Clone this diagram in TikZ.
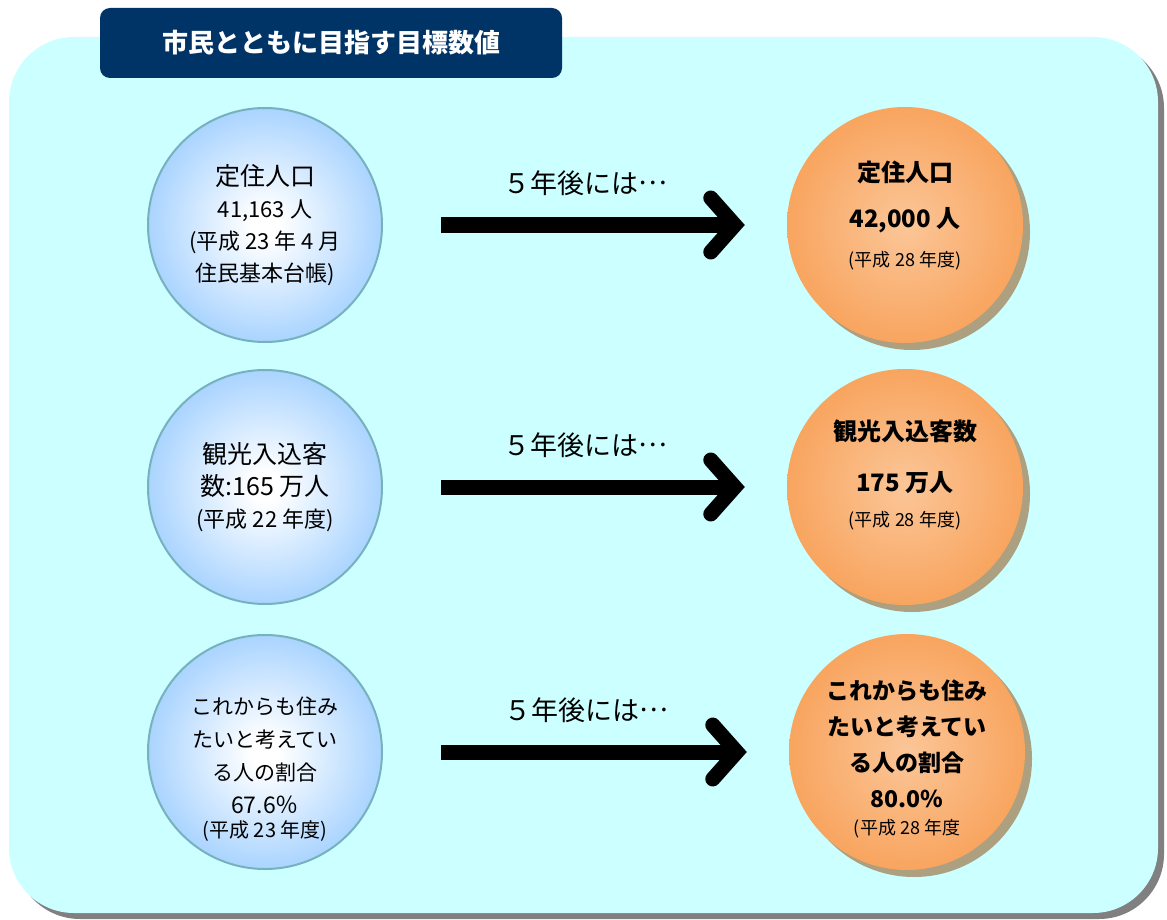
\documentclass[tikz,border=0pt]{standalone}
\usepackage{fontspec}
\setmainfont{Noto Sans CJK JP}
\usetikzlibrary{positioning,arrows.meta,shadows}

\definecolor{bgcyan}{RGB}{204,255,255}
\definecolor{panelshadow}{RGB}{128,128,128}
\definecolor{titlenavy}{RGB}{0,51,102}
\definecolor{ballblue}{RGB}{150,202,255}
\definecolor{ballrim}{RGB}{118,178,190}
\definecolor{ballorange}{RGB}{247,150,70}
\definecolor{orangelight}{RGB}{251,198,152}
\definecolor{orangeshade}{RGB}{172,160,128}

\pgfdeclareradialshading{blueball}{\pgfpoint{0bp}{0bp}}{color(0bp)=(white); color(3bp)=(white); color(30bp)=(ballblue); color(50bp)=(ballblue)}
\pgfdeclareradialshading{orangeball}{\pgfpoint{0bp}{0bp}}{color(0bp)=(orangelight); color(36bp)=(ballorange); color(50bp)=(ballorange)}

\newcommand\yearfont{\mdseries\fontsize{18}{20}\selectfont}
\newcommand\middots{\raisebox{.33em}{…}}

\begin{document}
\begin{tikzpicture}[x=1pt,y=-1pt,
    nowball/.style={circle,minimum size=234pt,inner sep=0pt,shading=blueball,draw=ballrim,line width=2pt},
    goalball/.style={circle,minimum size=236pt,inner sep=0pt,shading=orangeball,
        drop shadow={shadow xshift=7pt,shadow yshift=-7pt,fill=orangeshade,opacity=1}},
    nowtext/.style={align=center,inner sep=0pt,font=\fontsize{22}{32}\selectfont},
    goaltext/.style={align=center,inner sep=0pt,font=\bfseries\fontsize{24}{30}\selectfont},
    titlebox/.style={fill=titlenavy,rounded corners=10pt,minimum width=462pt,minimum height=70pt,
        text=white,font=\bfseries\fontsize{26}{26}\selectfont},
    yeararrow/.style={line width=15pt,-{Straight Barb[length=24pt,width=54pt,line cap=round,line join=miter]},
        shorten <=58pt,shorten >=42pt},
    afterlabel/.style={midway,above=22pt,inner sep=0pt,font=\fontsize{27}{27}\selectfont}]

    \useasboundingbox (0,0) rectangle (1167,920);
    % panel
    \fill[panelshadow,rounded corners=65pt] (15,43) rectangle (1164,919);
    \fill[bgcyan,rounded corners=65pt] (9,37) rectangle (1158,913);
    \node[titlebox] (title) at (331,43) {市民とともに目指す目標数値};

    % now
    \node[nowball] (now1) at (265,225) {};
    \node[nowball] (now2) at (265,487) {};
    \node[nowball] (now3) at (265,752) {};
    % goals
    \node[goalball] (goal1) at (905,225) {};
    \node[goalball] (goal2) at (905,487) {};
    \node[goalball] (goal3) at (907,752) {};

    \node[nowtext] (now1t) at (now1) {{\fontsize{25}{32}\selectfont 定住人口}\\41,163 人\\(平成 23 年 4 月\\住民基本台帳)};
    \node[nowtext] (now2t) at (now2) {{\fontsize{25}{32}\selectfont 観光入込客}\\{\fontsize{25}{32}\selectfont 数:165 万人}\\(平成 22 年度)};
    \node[nowtext,font=\fontsize{21}{33}\selectfont] (now3t) at ([yshift=-17pt]now3.center)
        {これからも住み\\たいと考えてい\\る人の割合\\{\fontsize{23}{33}\selectfont 67.6％}\\[-9pt]{\fontsize{20}{22}\selectfont (平成 23 年度)}};

    \node[goaltext] (goal1t) at ([yshift=10pt]goal1.center) {定住人口\\[16pt]42,000 人\\[9pt]{\yearfont (平成 28 年度)}};
    \node[goaltext] (goal2t) at ([yshift=12pt]goal2.center) {観光入込客数\\[21pt]175 万人\\[5pt]{\yearfont (平成 28 年度)}};
    \node[goaltext,font=\bfseries\fontsize{23}{36}\selectfont] (goal3t) at ([yshift=-7pt]goal3.center)
        {これからも住み\\たいと考えてい\\る人の割合\\80.0\%\\[-9pt]{\yearfont (平成 28 年度}};

    % arrows
    \draw[yeararrow] (now1) -- (goal1) node[afterlabel] (after1) {５年後には\middots};
    \draw[yeararrow] (now2) -- (goal2) node[afterlabel] (after2) {５年後には\middots};
    \draw[yeararrow] (now3) -- (goal3) node[afterlabel] (after3) {５年後には\middots};
\end{tikzpicture}
\end{document}
